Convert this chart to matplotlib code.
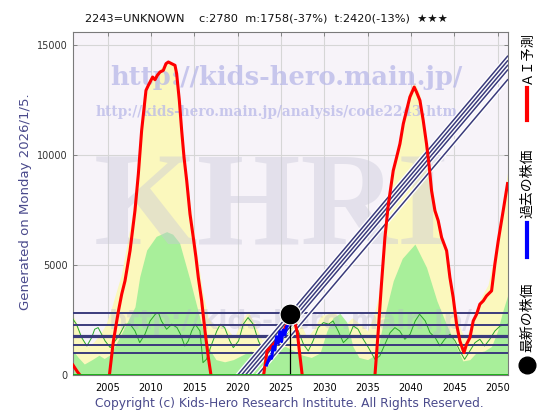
import numpy as np
import matplotlib
matplotlib.use("Agg")
import matplotlib.pyplot as plt
from matplotlib.lines import Line2D

plt.rcParams['font.family'] = ['DejaVu Sans', 'Noto Sans CJK JP']

nan = np.nan

# AI prediction (red), segments split by nan
ai_year = [2001.0, 2001.5, 2001.8, nan,
           2005.2, 2005.65, 2006.23, 2006.62, 2007.0, 2007.58, 2008.15, 2008.54, 2008.92, 2009.42,
           2009.69, 2010.19, 2010.46, 2010.73, 2011.04, 2011.42, 2011.73, 2012.0, 2012.38, 2012.77,
           2012.96, 2013.27, 2013.54, 2013.81, 2014.12, 2014.5, 2014.88, 2015.19, 2015.46, 2015.85,
           2016.23, 2016.62, 2016.92, nan,
           2023.0, 2023.4, 2023.9, 2024.6, 2025.3, 2026.0, 2026.3, 2026.6, 2026.9, 2027.15, 2027.45, nan,
           2035.85, 2036.23, 2036.6, 2037.0, 2037.4, 2037.96, 2038.35, 2038.73, 2039.12, 2039.5,
           2039.88, 2040.38, 2040.65, 2041.04, 2041.42, 2041.8, 2042.12, 2042.38, 2042.77, 2043.15,
           2043.54, 2044.12, 2044.5, 2044.88, 2045.27, 2045.65, 2046.12, 2046.42, 2046.81, 2047.19,
           2047.58, 2047.96, 2048.35, 2048.73, 2049.31, 2049.69, 2050.08, 2050.65, 2051.15]
ai_val = [450, 150, 0, nan,
          0, 1518, 2884, 3674, 4281, 5647, 7469, 9138, 11112, 12933,
          13161, 13540, 13419, 13617, 13768, 13844, 14148, 14224, 14148, 14072,
          13692, 12478, 11112, 9897, 8835, 7317, 6254, 5343, 4433, 3370,
          2004, 789, 0, nan,
          0, 1100, 1300, 1600, 2000, 2600, 2700, 2400, 1900, 1000, 0, nan,
          0, 2004, 4129, 6254, 7772, 9290, 9897, 10505, 11415, 12022,
          12630, 13085, 12857, 12478, 11567, 10505, 9442, 8380, 7469, 7013,
          6254, 5647, 4433, 3522, 2307, 1548, 1017, 1397, 1700, 2459,
          2763, 3218, 3370, 3598, 3825, 5040, 6102, 7469, 8700]

# past price (blue)
past_year = [2023.34, 2023.72, 2023.92, 2024.1, 2024.3, 2024.49, 2024.68, 2024.87, 2025.07,
             2025.25, 2025.45, 2025.65, 2025.83, 2026.0]
past_val = [455, 833, 757, 1288, 1136, 1742, 1439, 1970, 1515, 2045, 1818, 2197, 2273, 2780]

latest_year = 2026.0
latest_val = 2780

# upper band (yellow)
band_hi_year = [2001.0, 2001.5, 2002.0, 2002.7, 2003.4, 2004.2, 2004.8, 2005.4, 2006.0, 2006.6,
                2007.2, 2007.8, 2008.3, 2008.8, 2009.3, 2010.0, 2011.0, 2012.0, 2012.8, 2013.3,
                2013.8, 2014.5, 2015.2, 2015.9, 2016.6, 2017.3, 2018.0, 2018.8, 2019.6, 2020.5,
                2021.2, 2022.0, 2022.8, 2023.6, 2024.5, 2025.5, 2026.5, 2027.2, 2028.0, 2028.8,
                2029.6, 2030.5, 2031.2, 2032.2, 2033.2, 2034.2, 2035.0, 2035.6, 2036.1, 2036.6,
                2037.1, 2037.6, 2038.1, 2039.0, 2039.8, 2040.4, 2041.0, 2041.5, 2042.2, 2042.8,
                2043.4, 2044.0, 2044.6, 2045.2, 2045.8, 2046.3, 2046.9, 2047.5, 2048.2, 2048.9,
                2049.5, 2050.0, 2050.6, 2051.15]
band_hi_val = [2700, 2300, 1700, 1300, 1500, 1900, 2300, 3000, 3800, 4600,
               5900, 7200, 8900, 10800, 12600, 13400, 13900, 14300, 14100, 12700,
               10200, 7800, 5800, 3900, 2600, 2200, 2300, 2100, 1700, 2500,
               2900, 2300, 1600, 1800, 2200, 2400, 2700, 2400, 1700, 2100,
               2700, 2800, 2900, 2200, 2600, 2300, 2000, 2600, 3300, 4600,
               6400, 7900, 9400, 11500, 12900, 13300, 12800, 11400, 9300, 7700,
               6600, 5600, 4300, 2900, 2000, 1700, 2200, 3000, 3600, 4100,
               5200, 6400, 7800, 9200]

# lower band (green fill)
band_lo_year = [2001.0, 2001.6, 2002.3, 2003.2, 2004.0, 2004.6, 2005.2, 2005.6, 2006.4, 2007.2,
                2008.15, 2008.7, 2009.5, 2010.6, 2011.8, 2012.5, 2013.3, 2014.5, 2015.3, 2016.0,
                2016.8, 2017.5, 2018.5, 2019.5, 2020.5, 2021.5, 2022.5, 2023.5, 2024.5, 2025.5,
                2026.5, 2027.5, 2028.5, 2029.5, 2030.3, 2031.0, 2031.8, 2032.6, 2033.3, 2034.0,
                2035.0, 2035.8, 2036.2, 2037.0, 2037.96, 2039.0, 2040.46, 2041.8, 2043.0, 2044.1,
                2045.3, 2046.0, 2046.8, 2047.5, 2048.5, 2049.3, 2050.0, 2050.6, 2051.15]
band_lo_val = [1100, 800, 500, 700, 900, 750, 900, 1140, 1740, 2360,
               3100, 4470, 5680, 6300, 6515, 6400, 6000, 4318, 3100, 2045,
               1136, 700, 600, 700, 900, 1100, 900, 1000, 1200, 1300,
               1100, 900, 800, 1000, 2000, 2600, 2800, 2400, 1300, 800,
               700, 900, 1245, 2760, 4280, 5300, 5950, 4888, 3370, 2300,
               1245, 640, 700, 1000, 1100, 1300, 2000, 2900, 3600]

# cycle line (thin green)
cycle_year = [2001.0, 2001.4, 2002.0, 2002.6, 2003.15, 2003.5, 2003.9, 2004.3, 2004.7, 2005.3,
              2005.85, 2006.4, 2007.0, 2007.6, 2008.15, 2008.7, 2009.3, 2009.9, 2010.5, 2010.85,
              2011.2, 2011.8, 2012.4, 2013.0, 2013.4, 2013.9, 2014.3, 2014.7, 2015.1, 2015.65,
              2016.0, 2016.4, 2017.0, 2017.6, 2018.0, 2018.5, 2019.1, 2019.5, 2020.1, 2020.65,
              2021.2, 2021.8, 2022.4, 2022.96, 2023.5, 2024.2, 2024.9, 2025.65, 2026.2, 2026.6,
              2027.0, 2027.6, 2028.15, 2028.7, 2029.3, 2029.9, 2030.5, 2031.0, 2031.6, 2032.2,
              2032.8, 2033.35, 2033.9, 2034.5, 2035.1, 2035.85, 2036.4, 2037.0, 2037.6, 2038.15,
              2038.7, 2039.3, 2039.9, 2040.5, 2041.0, 2041.65, 2042.2, 2042.8, 2043.35, 2043.9,
              2044.5, 2045.1, 2045.65, 2046.2, 2046.8, 2047.4, 2047.96, 2048.5, 2049.1, 2049.7,
              2050.3, 2051.15]
cycle_val = [2535, 2307, 1700, 1320, 1700, 2080, 2155, 1852, 1548, 1245,
             1548, 1852, 2307, 2307, 2004, 1472, 1852, 2459, 2763, 2839,
             2459, 2080, 2307, 2155, 1852, 1320, 1548, 2004, 2307, 2004,
             562, 713, 1397, 2004, 2307, 2155, 1548, 1245, 1548, 2307,
             2611, 2307, 1548, 1093, 1320, 1700, 1548, 1852, 2155, 2307,
             2004, 1397, 1093, 1548, 2155, 2383, 2307, 2459, 2004, 1472,
             1700, 2231, 2080, 1624, 1245, 713, 865, 1397, 1928, 2155,
             2004, 1624, 1852, 2459, 2763, 2459, 1928, 1700, 1320, 1624,
             1852, 1548, 1093, 713, 1093, 1472, 1624, 1320, 1624, 2004,
             2231, 2307]

# support / resistance levels
level_vals = [2800, 2260, 1790, 1350, 990]
level_widths = [1.4, 1.4, 2.3, 1.4, 1.4]

# trend channel: start year at zero and slope per year
trend_start = [2020.0, 2020.45, 2020.9, 2021.35, 2022.3]
trend_slope = 465

title_text = "2243=UNKNOWN    c:2780  m:1758(-37%)  t:2420(-13%)  \u2605\u2605\u2605"
date_text = "Generated on Monday 2026/1/5."
copyright_text = "Copyright (c) Kids-Hero Research Institute. All Rights Reserved."

XMIN, XMAX = 2001.0, 2051.15
YMAX = 15600
NAVY = '#3b3b7c'


def main():
    fig = plt.figure(figsize=(5.6, 4.2), dpi=100)
    ax = fig.add_axes([0.1304, 0.1071, 0.7759, 0.8174])
    ax.set_facecolor('#f7f3f9')

    ax.fill_between(band_hi_year, band_hi_val, 0, color='#fbf8bd', lw=0, zorder=1)
    ax.fill_between(band_lo_year, band_lo_val, 0, color='#a8ef9a', lw=0, zorder=2)

    ax.grid(True, color='#d6d6d6', lw=0.8, zorder=0)
    ax.set_axisbelow(True)

    # watermarks
    ax.text(0.49, 0.866, "http://kids-hero.main.jp/", transform=ax.transAxes, ha='center', va='center',
            family='DejaVu Serif', weight='bold', fontsize=18.5, color='#b8b8e8', alpha=0.75, zorder=3)
    ax.text(0.468, 0.766, "http://kids-hero.main.jp/analysis/code2243.htm", transform=ax.transAxes,
            ha='center', va='center', family='DejaVu Serif', weight='bold', fontsize=9.8,
            color='#b8b8e8', alpha=0.75, zorder=3)
    ax.text(0.458, 0.475, "KHRI", transform=ax.transAxes, ha='center', va='center',
            family='Liberation Serif', weight='bold', fontsize=96, color='#c8c8d8', alpha=0.42, zorder=3)
    ax.text(0.5, 0.155, "http://kids-hero.main.jp/", transform=ax.transAxes, ha='center', va='center',
            weight='bold', fontsize=19, color='#b8b8cc', alpha=0.35, zorder=3)

    ax.plot(cycle_year, cycle_val, color='#2aa62a', lw=0.7, zorder=4)

    for v, w in zip(level_vals, level_widths):
        ax.axhline(v, color=NAVY, lw=w, zorder=5)

    xs = np.array([XMIN, XMAX])
    for x0 in trend_start:
        ax.plot(xs, trend_slope * (xs - x0), color='white', lw=3.0, zorder=5.5, solid_capstyle='butt')
    for x0 in trend_start:
        ax.plot(xs, trend_slope * (xs - x0), color=NAVY, lw=1.1, zorder=5.6)

    ax.plot(ai_year, ai_val, color='#ff0000', lw=2.2, zorder=6)
    ax.plot(past_year, past_val, color='#0000ff', lw=2.2, zorder=7)
    ax.plot([latest_year, latest_year], [0, latest_val], color='black', lw=0.9, zorder=7)
    ax.plot([latest_year], [latest_val], 'o', color='black', ms=15, mec='white', mew=0.8, zorder=8)
    ax.axhline(0, color='#11aa11', lw=2.0, zorder=8)

    ax.set_xlim(XMIN, XMAX)
    ax.set_ylim(0, YMAX)
    ax.set_xticks(range(2005, 2051, 5))
    ax.set_yticks([0, 5000, 10000, 15000])
    ax.tick_params(axis='both', direction='in', length=3, width=0.6, color='#777777',
                   top=True, right=True, labelsize=7)
    ax.tick_params(axis='y', labelcolor='#333333', pad=4)
    ax.tick_params(axis='x', pad=6)
    for s in ax.spines.values():
        s.set_color('#7a7a7a')
        s.set_linewidth(0.8)

    fig.text(0.475, 0.955, title_text, ha='center', va='center', fontsize=8.2, color='#111111')
    fig.text(0.045, 0.519, date_text, rotation=90, ha='center', va='center', fontsize=9.5,
             color='#4a4a8c')
    fig.text(0.516, 0.04, copyright_text, ha='center', va='center', fontsize=8.8, color='#4a4a8c')

    # legend drawn vertically on the right
    lx = 527 / 560
    jp = ['Noto Sans CJK JP', 'DejaVu Sans']
    fig.text(lx, 1 - 58 / 420, "ＡＩ予測", rotation=90, ha='center', va='center', fontsize=9.5, family=jp)
    fig.add_artist(Line2D([lx, lx], [1 - 88 / 420, 1 - 120 / 420], color='#ff0000', lw=3))
    fig.text(lx, 1 - 183 / 420, "過去の株価", rotation=90, ha='center', va='center', fontsize=10, family=jp)
    fig.add_artist(Line2D([lx, lx], [1 - 223 / 420, 1 - 257 / 420], color='#0000ff', lw=3))
    fig.text(lx, 1 - 317 / 420, "最新の株価", rotation=90, ha='center', va='center', fontsize=10, family=jp)
    fig.add_artist(Line2D([lx], [1 - 365 / 420], marker='o', color='black', ms=12))

    fig.savefig("out.png", dpi=100)


if __name__ == "__main__":
    main()
